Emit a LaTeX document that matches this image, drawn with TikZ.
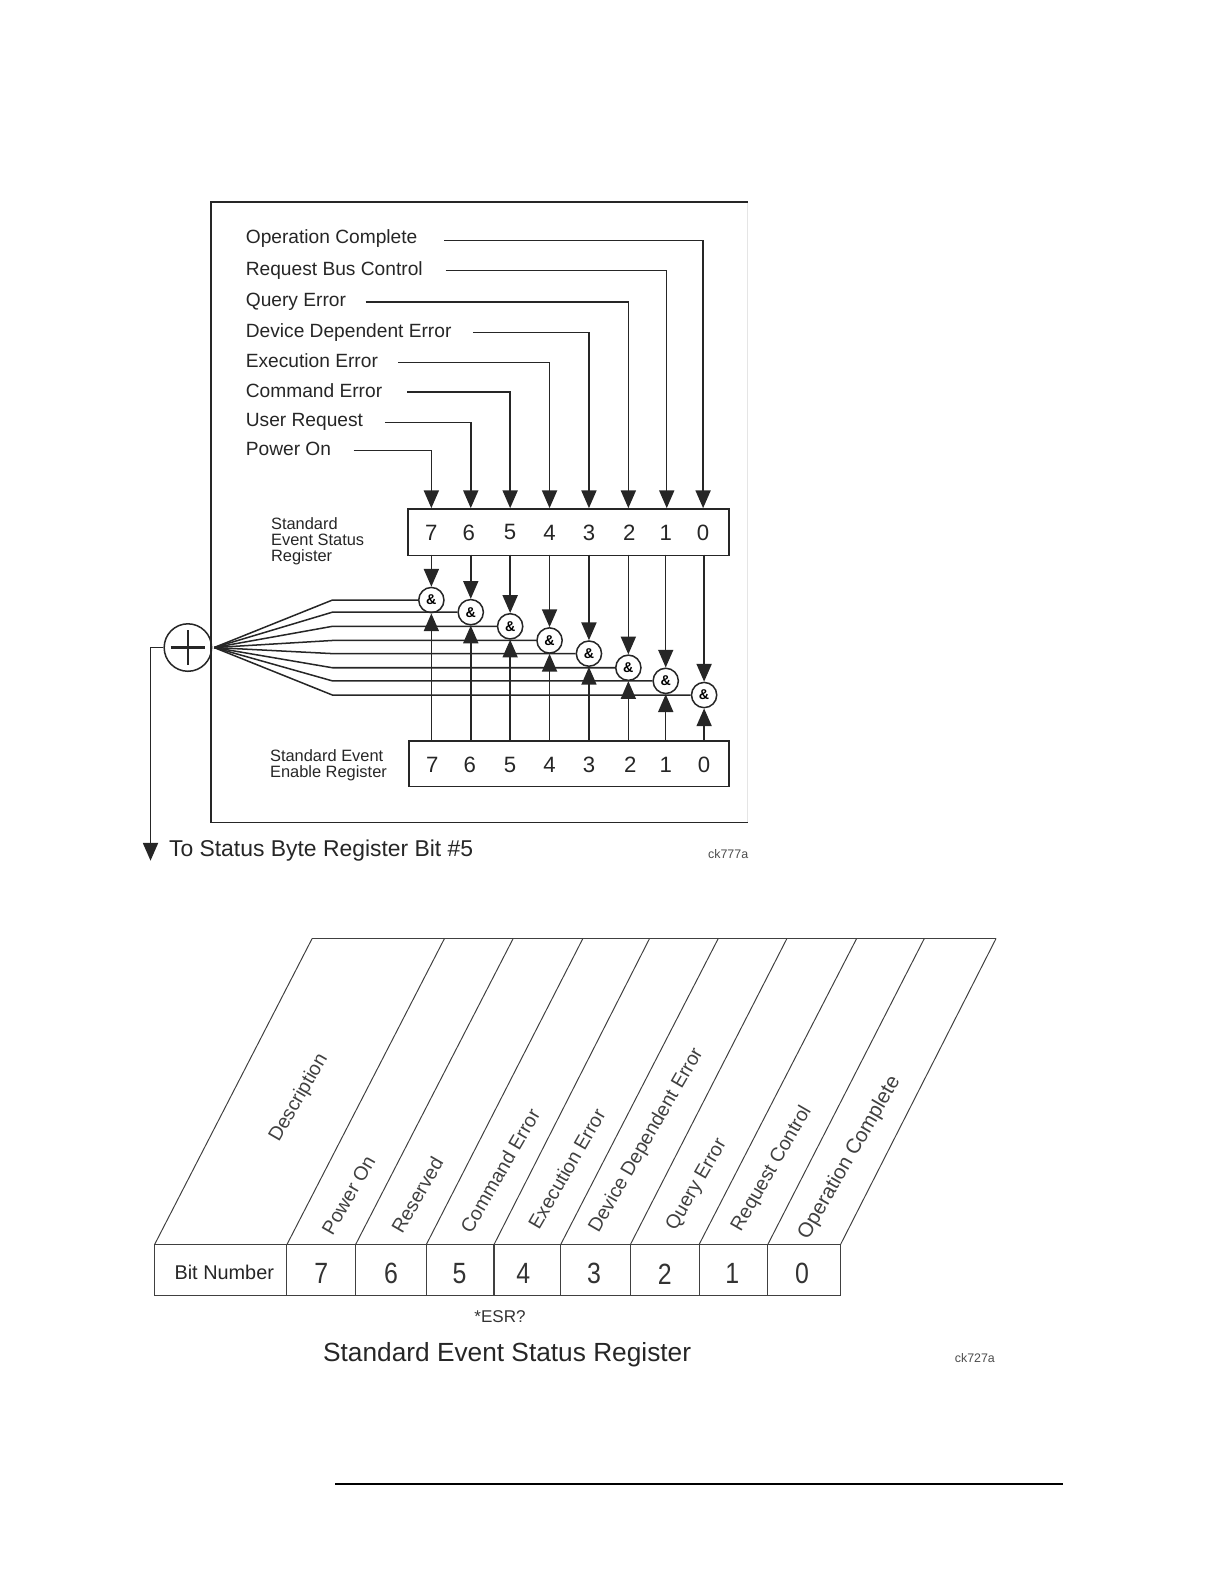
\documentclass[tikz,border=0pt]{standalone}
\usepackage{fontspec}
\setmainfont{Liberation Sans}
\usetikzlibrary{arrows.meta}
\newcommand{\fs}[1]{\fontsize{#1}{#1}\selectfont}
\tikzset{
  ink/.style={draw=black!85,line width=0.85pt},
  arr/.style={ink,-{Triangle[length=10pt,width=8.5pt]}},
  txt/.style={inner sep=0pt,text=black!85,anchor=west},
  biglab/.style={inner sep=0pt,text=black!85,anchor=base west,font=\fs{10.8}},
  smalllab/.style={inner sep=0pt,text=black!85,anchor=base west,font=\fs{9.25}},
  regbox/.style={ink,inner sep=0pt,anchor=north west},
  digit/.style={inner sep=0pt,text=black!85,font=\fs{12.5}},
  andgate/.style={circle,ink,fill=white,inner sep=0pt,minimum size=0.5cm,font=\bfseries\fs{8}},
  slant/.style={draw=black!75,line width=0.55pt},
  cell/.style={draw=black!75,line width=0.6pt},
  rotlab/.style={inner sep=0pt,text=black!75,rotate=60,font=\fs{11}},
  tabdigit/.style={inner sep=0pt,text=black!80,font=\fs{16.5},xscale=0.85},
  tiny/.style={inner sep=0pt,text=black!70,font=\fs{7}}
}
\begin{document}
\begin{tikzpicture}[x=0.02cm,y=-0.02cm]
\useasboundingbox (0,0) rectangle (1212,1568);
% frame
\draw[draw=black!10,line width=0.4pt] (740,200) -- (740,814);
\draw[ink] (740,200) -- (209,200) -- (209,814) -- (740,814);
% labels
\node[biglab] (lOC) at (243,241) {Operation Complete};
\node[biglab] (lRB) at (243,273) {Request Bus Control};
\node[biglab] (lQE) at (243,303) {Query Error};
\node[biglab] (lDD) at (243,334) {Device Dependent Error};
\node[biglab] (lEE) at (243,364) {Execution Error};
\node[biglab] (lCE) at (243,393) {Command Error};
\node[biglab] (lUR) at (243,422) {User Request};
\node[biglab] (lPO) at (243,451) {Power On};
% registers
\node[regbox,minimum width=6.36cm,minimum height=0.92cm] (rt) at (403,503) {};
\node[regbox,minimum width=6.34cm,minimum height=0.9cm] (rb) at (404,733) {};
% columns
\foreach \n/\x/\dt/\db/\cy/\name/\sx/\sy in {
 7/427/427/428/594/PO/350/446,
 6/466/464/465/606/UR/381/418,
 5/505/505/505/620/CE/403/388,
 4/544/544/544/634/EE/394/359,
 3/583/583/583/647/DD/468/329,
 2/622/623/624/661/QE/362/299,
 1/660/659/659/674/RB/441/268,
 0/696/696/697/688/OC/440/238}{
  \node[digit] (dt\n) at (\dt,527) {\n};
  \node[digit] (db\n) at (\db,757) {\n};
  \coordinate (in\n) at (\x,503);
  \coordinate (src\n) at (\sx,\sy);
  \draw[arr] (src\n) -| (in\n);
}
% fan and gates
\node[circle,ink,inner sep=0pt,minimum size=0.94cm] (sum) at (186,641) {};
\draw[line width=1.3pt,draw=black!85] (sum.center) ++(-17,0) -- ++(34,0) (sum.center) ++(0,-17) -- ++(0,34);
\coordinate (apex) at (212,641);
\foreach \n/\x/\cy in {7/427/594,6/466/606,5/505/620,4/544/634,3/583/647,2/622/661,1/659/674,0/697/688}{
  \node[andgate] (g\n) at (\x,\cy) {\&};
  \coordinate (bend\n) at (329,\cy);
  \coordinate (tb\n) at (\x,549);
  \coordinate (bt\n) at (\x,733);
}
\foreach \n in {7,...,0}{
  \draw[ink] (apex) -- (bend\n) -- (g\n.west);
}
\foreach \n in {7,...,0}{
  \draw[arr] (tb\n) -- (g\n.north);
  \draw[arr] (bt\n) -- (g\n.south);
}
% output
\coordinate (corner) at (149,641);
\coordinate (outend) at (149,852);
\draw[arr] (sum.west) -- (corner) -- (outend);
% side texts
\node[smalllab] (s1) at (268,524) {Standard};
\node[smalllab] (s2) at (268,540) {Event Status};
\node[smalllab] (s3) at (268,556) {Register};
\node[smalllab] (e1) at (267,754) {Standard Event};
\node[smalllab] (e2) at (267,770) {Enable Register};
\node[inner sep=0pt,text=black!85,anchor=base west,font=\fs{12.9}] (tostat) at (167,848) {To Status Byte Register Bit \#5};
\node[tiny,anchor=east] (ck1) at (741,845) {ck777a};
% lower table
\coordinate (tl) at (309,929); \coordinate (tr) at (986,929);
\draw[slant] (tl) -- (tr);
\foreach \n/\a/\b in {a/309/153,b/440/284,c/508/352,d/577/422,e/643/489,f/711/555,g/779/624,h/848/692,i/915/760,j/986/832}{
  \coordinate (st\n) at (\a,929);
  \coordinate (sb\n) at (\b,1232);
  \draw[slant] (st\n) -- (sb\n);
}
\draw[cell] (153,1232) rectangle (832,1282);
\foreach \n/\x in {a/284,b/352,c/422,d/489,e/555,f/624,g/692,h/760}{
  \coordinate (ct\n) at (\x,1232);
  \coordinate (cb\n) at (\x,1282);
  \draw[cell] (ct\n) -- (cb\n);
}
\node[inner sep=0pt,text=black!85,font=\fs{11.2}] (bn) at (222,1260) {Bit Number};
\foreach \n/\x in {7/318,6/387,5/455,4/518,3/588,2/658,1/725,0/794}{
  \node[tabdigit] (td\n) at (\x,1261) {\n};
}
\node[rotlab] (r0) at (296,1087) {Description};
\node[rotlab] (r1) at (345,1183) {Power On};
\node[rotlab] (r2) at (413,1183) {Reserved};
\node[rotlab] (r3) at (495,1159) {Command Error};
\node[rotlab] (r4) at (561,1157) {Execution Error};
\node[rotlab] (r5) at (640,1129) {Device Dependent Error};
\node[rotlab] (r6) at (690,1173) {Query Error};
\node[rotlab] (r7) at (764,1157) {Request Control};
\node[rotlab,font=\fs{11.6}] (r8) at (841,1146) {Operation Complete};
\node[inner sep=0pt,text=black!80,font=\fs{9.6}] (esr) at (495,1303) {*ESR?};
\node[inner sep=0pt,text=black!85,font=\fs{14.8}] (title) at (502,1341) {Standard Event Status Register};
\node[tiny] (ck2) at (965,1344) {ck727a};
% page rule
\coordinate (ra) at (332,1469); \coordinate (rz) at (1052,1469);
\draw[draw=black,line width=1.1pt] (ra) -- (rz);
\end{tikzpicture}
\end{document}
